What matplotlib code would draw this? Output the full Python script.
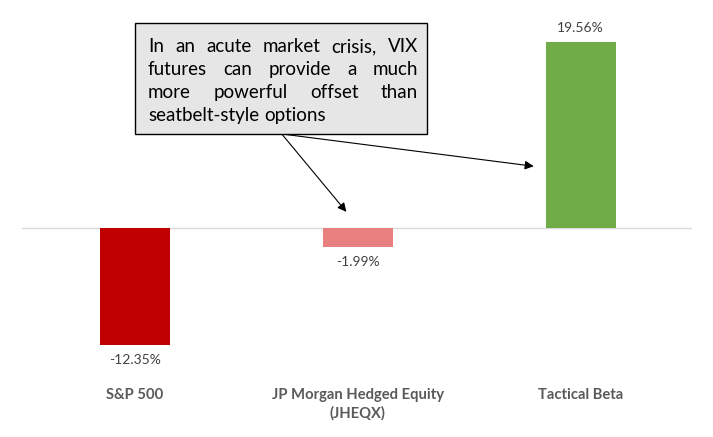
import matplotlib
matplotlib.use("Agg")
import matplotlib.pyplot as plt
from matplotlib.patches import Rectangle

plt.rcParams['font.family'] = ['Lato', 'DejaVu Sans']

categories = ['S&P 500', 'JP Morgan Hedged Equity\n(JHEQX)', 'Tactical Beta']
returns = [-12.35, -1.99, 19.56]
colors = ['#C00000', '#E88080', '#70AD47']
note_lines = [
    ['In', 'an', 'acute', 'market', 'crisis,', 'VIX'],
    ['futures', 'can', 'provide', 'a', 'much'],
    ['more', 'powerful', 'offset', 'than'],
    ['seatbelt-style', 'options'],
]

W, H = 713, 437
fig = plt.figure(figsize=(W / 100, H / 100), dpi=100)
ax = fig.add_axes([22 / W, (H - 360) / H, 670 / W, 340 / H])

x = range(len(categories))
ax.bar(x, returns, width=0.314, color=colors, zorder=2)
ax.axhline(0, color='#d9d9d9', lw=1, zorder=1)
ax.set_xlim(-0.505, 2.5)
ax.set_ylim(-13.9, 21.9)

for i, v in enumerate(returns):
    off = 6 if v > 0 else -6.5
    ax.annotate(f'{v:.2f}%', (i, v), xytext=(0, off), textcoords='offset points',
                ha='center', va='bottom' if v > 0 else 'top',
                fontsize=10, color='#404040')

ax.set_xticks(list(x), labels=categories)
ax.tick_params(axis='x', length=0, pad=20, labelsize=10.6, labelcolor='#595959')
for t in ax.get_xticklabels():
    t.set_fontweight('bold')
    t.set_verticalalignment('top')
    t.set_linespacing(1.4)
ax.set_yticks([])
for s in ax.spines.values():
    s.set_visible(False)

# callout box
fig.patches.append(Rectangle((135 / W, (H - 134) / H), 292 / W, 111 / H,
                             transform=fig.transFigure, facecolor='#e6e6e6',
                             edgecolor='black', lw=1, zorder=5))

renderer = fig.canvas.get_renderer()
left, right = 148, 418
baselines = [52, 75, 98, 121]
for k, words in enumerate(note_lines):
    arts = [fig.text(0, 0, w, fontsize=13.5, color='black', zorder=6,
                     va='baseline', ha='left') for w in words]
    widths = [a.get_window_extent(renderer).width for a in arts]
    if k < len(note_lines) - 1:
        gap = (right - left - sum(widths)) / (len(words) - 1)
    else:
        sp = fig.text(0, 0, 'a b', fontsize=13.5)
        sp2 = fig.text(0, 0, 'ab', fontsize=13.5)
        gap = sp.get_window_extent(renderer).width - sp2.get_window_extent(renderer).width
        sp.remove()
        sp2.remove()
    px = left
    for a, w in zip(arts, widths):
        a.set_position((px / W, (H - baselines[k]) / H))
        px += w + gap

# arrows from the box to the bars
arrow_start = (0.66, 9.9)
arrow_ends = [(0.95, 1.7), (1.79, 6.5)]
for end in arrow_ends:
    ax.annotate('', xy=end, xytext=arrow_start,
                arrowprops=dict(arrowstyle='-|>', color='black', lw=0.8,
                                mutation_scale=13, shrinkA=0, shrinkB=0),
                zorder=4)

fig.savefig('out.png', dpi=100, facecolor='white')
